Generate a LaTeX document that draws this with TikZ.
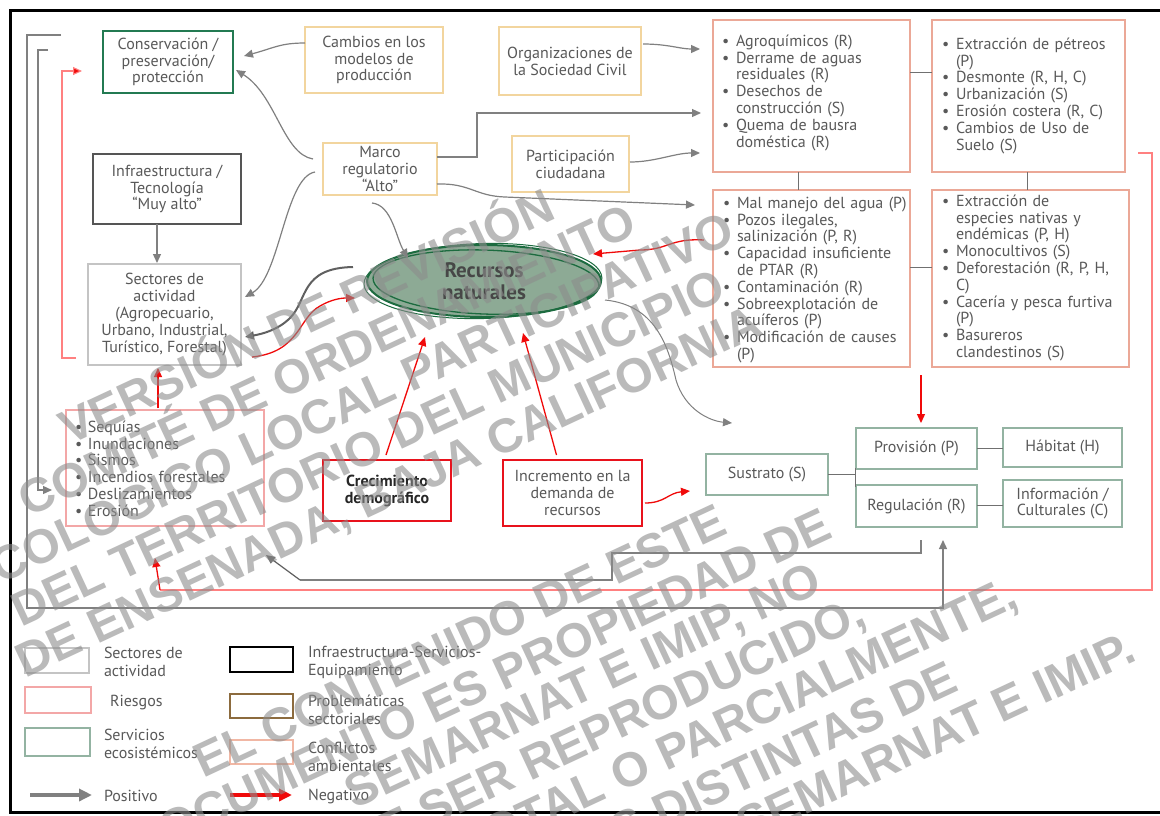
\documentclass[tikz,border=0pt]{standalone}
\usepackage{fontspec}
\setmainfont{PT Sans}
\newfontfamily\wmfont{Liberation Sans}
\usetikzlibrary{arrows.meta,calc,shapes.geometric}
\definecolor{tgray}{HTML}{595959}
\definecolor{dtxt}{HTML}{262626}
\definecolor{cCons}{HTML}{237A52}
\definecolor{cTan}{HTML}{F2D59E}
\definecolor{cSalm}{HTML}{EBA897}
\definecolor{cInfra}{HTML}{555555}
\definecolor{cSect}{HTML}{C4C4C4}
\definecolor{cRies}{HTML}{F3A7A7}
\definecolor{cCrec}{HTML}{E8121C}
\definecolor{cEco}{HTML}{93B3A2}
\definecolor{cEllF}{HTML}{8DAA95}
\definecolor{cEllD}{HTML}{1C6B3F}
\definecolor{cArr}{HTML}{808080}
\definecolor{cArrD}{HTML}{606060}
\definecolor{cRed}{HTML}{F00A0A}
\definecolor{cLRed}{HTML}{FF8080}
\definecolor{cBrown}{HTML}{8C6B3E}
\definecolor{cConf}{HTML}{F1B7A4}
\definecolor{cLine}{HTML}{707070}
\newcommand{\bl}{\makebox[14pt][l]{\textbullet}}
\newcommand{\ind}{\hspace*{14pt}}
\newcommand{\blr}{\makebox[13pt][l]{\textbullet}}
\begin{document}
\begin{tikzpicture}[x=1pt,y=-1pt,
  every node/.style={inner sep=0pt,outer sep=0pt},
  tx/.style={text=tgray,font=\fontsize{16}{16.8}\selectfont,align=center},
  bx/.style={draw=#1,line width=2.6pt,tx},
  sz/.style 2 args={minimum width=#1pt,minimum height=#2pt},
  bul/.style={tx,align=left,anchor=north west,text width=220pt},
  tip/.style={-{Triangle[length=9pt,width=8pt]}},
  ga/.style={draw=cArr,line width=1.2pt,tip},
  ra/.style={draw=cRed,line width=1.3pt,tip},
  ln/.style={draw=cLine,line width=0.9pt},
  lgt/.style={tx,align=left,anchor=west,font=\fontsize{16}{18}\selectfont},
  wm/.style={font=\wmfont\bfseries\fontsize{48}{48}\selectfont,text=black!45,text opacity=0.6,align=center,rotate=25}
]
\fill[white] (0,0) rectangle (1160,815);
\useasboundingbox (0,0) rectangle (1160,815);
\draw[line width=3pt] (10,10) rectangle (1180,812);

% boxes
\node[bx=cCons, sz={130}{62}] (cons) at (168,62) {Conservación /\\preservación/\\protección};
\node[bx=cTan, sz={138}{66}] (cambios) at (374,60) {Cambios en los\\modelos de\\producción};
\node[bx=cTan, sz={142}{68}] (org) at (570,61) {Organizaciones de\\la Sociedad Civil};
\node[bx=cSalm, sz={197}{152}] (agro) at (811.5,96) {};
\node[bx=cSalm, sz={193}{152}] (petreos) at (1028.5,96) {};
\node[bx=cTan, sz={114}{52}] (marco) at (380,169) {Marco\\regulatorio\\“Alto”};
\node[bx=cTan, sz={117}{56}] (partic) at (570.5,164) {Participación\\ciudadana};
\node[bx=cSalm, sz={197}{177}] (malm) at (811.5,278.5) {};
\node[bx=cSalm, sz={197}{177}] (esp) at (1030.5,278.5) {};
\node[bx=cInfra, sz={148}{70}] (infra) at (167,189) {Infraestructura /\\Tecnología\\“Muy alto”};
\node[bx=cSect, sz={153}{101}] (sect) at (164.5,314.5) {Sectores de\\actividad\\(Agropecuario,\\Urbano, Industrial,\\Turístico, Forestal)};
\node[bx=cRies, line width=2pt, sz={198}{116}] (ries) at (165,468) {};
\node[bx=cCrec, sz={128}{61}, text=dtxt, font=\bfseries\fontsize{16}{17}\selectfont] (crec) at (387,490.5) {Crecimiento\\demográfico};
\node[bx=cCrec, sz={139}{66}] (incr) at (572.5,493) {Incremento en la\\demanda de\\recursos};
\node[bx=cEco, sz={122}{41}] (sust) at (767,474.5) {Sustrato (S)};
\node[bx=cEco, sz={121}{41}] (prov) at (916.5,448.5) {Provisión (P)};
\node[bx=cEco, sz={121}{42}] (regu) at (916.5,506) {Regulación (R)};
\node[bx=cEco, sz={119}{39}] (hab) at (1062.5,447.5) {Hábitat (H)};
\node[bx=cEco, sz={119}{47}] (info) at (1062.5,503.5) {Información /\\Culturales (C)};

% bullet texts
\node[bul] (agrot) at (722,34.5) {\strut\bl Agroquímicos (R)\\\bl Derrame de aguas\\\ind residuales (R)\\\bl Desechos de\\\ind construcción (S)\\\bl Quema de bausra\\\ind doméstica (R)};
\node[bul] (petreost) at (942,37.5) {\strut\bl Extracción de pétreos\\\ind (P)\\\bl Desmonte (R, H, C)\\\bl Urbanización (S)\\\bl Erosión costera (R, C)\\\bl Cambios de Uso de\\\ind Suelo (S)};
\node[bul] (malmt) at (723,196.5) {\strut\bl Mal manejo del agua (P)\\\bl Pozos ilegales,\\\ind salinización (P, R)\\\bl Capacidad insuficiente\\\ind de PTAR (R)\\\bl Contaminación (R)\\\bl Sobreexplotación de\\\ind acuíferos (P)\\\bl Modificación de causes\\\ind (P)};
\node[bul] (espt) at (942,194.5) {\strut\bl Extracción de\\\ind especies nativas y\\\ind endémicas (P, H)\\\bl Monocultivos (S)\\\bl Deforestación (R, P, H,\\\ind C)\\\bl Cacería y pesca furtiva\\\ind (P)\\\bl Basureros\\\ind clandestinos (S)};
\node[bul] (riest) at (75,420.5) {\strut\blr Sequías\\\blr Inundaciones\\\blr Sismos\\\blr Incendios forestales\\\blr Deslizamientos\\\blr Erosión};

% ellipse
\node[ellipse,fill=cEllF,draw=cEllD,line width=2pt,sz={234}{72},font=\bfseries\fontsize{21}{22}\selectfont,text=black!72,align=center] (rec) at (484,281) {Recursos\\naturales};
\draw[cEllD,line width=1.3pt,rotate around={-2:(rec.center)}] ($(rec.center)+(2,1)$) ellipse [x radius=113pt,y radius=32pt];
\draw[cEllD,line width=1pt,rotate around={1.5:(rec.center)}] ($(rec.center)+(-1,0)$) ellipse [x radius=119pt,y radius=37.5pt];

% plain connector lines
\draw[ln] ($(agro.east)+(0,-24)$) -- ($(petreos.west)+(0,-24)$);
\draw[ln] ($(agro.south)+(-13.5,0)$) -- ($(malm.north)+(-13.5,0)$);
\draw[ln] ($(petreos.south)+(-1.5,0)$) -- ($(esp.north)+(-3.5,0)$);
\draw[ln] ($(malm.east)+(0,-11.5)$) -- ($(esp.west)+(0,-11.5)$);
\draw[ln] (sust.east) -- ++(27,0);
\draw[ln] ($(prov.south west)+(-1,-1)$) -- ($(regu.north west)+(-1,2)$);
\draw[ln] (prov.east) -- (prov.east -| hab.west);
\draw[ln] ($(regu.east)+(0,-1)$) -- ($(regu.east -| info.west)+(0,-1)$);

% gray arrows
\draw[ga] ($(cambios.west)+(0,-17)$) .. controls +(-25,0) and +(30,-8) .. ($(cons.east)+(11,-6)$);
\draw[ga] ($(marco.west)+(-10,-10)$) .. controls +(-30,-5) and +(40,25) .. ($(cons.east)+(3,8)$);
\draw[ga] ($(marco.west)+(-8,3)$) .. controls +(-30,5) and +(35,-20) .. ($(sect.east)+(4,-17.5)$);
\draw[ga] ($(marco.east)+(0,-12)$) -- ++(40,0) |- ($(agro.west)+(-12,17)$);
\draw[ga] ($(marco.east)+(0,15)$) .. controls +(33,-1) and +(-30,-1) .. ($(marco.east)+(68,28)$) -- ($(malm.west)+(-18,-73.5)$);
\draw[ga] ($(marco.south)+(-8,8)$) .. controls +(20,2) and +(-12,-20) .. ($(rec.center)+(-76,-23)$);
\draw[ga] ($(org.east)+(2,-17)$) .. controls +(25,0) and +(-20,0) .. ($(agro.west)+(-13,-47)$);
\draw[ga] ($(partic.east)+(1,-2)$) .. controls +(25,0) and +(-25,0) .. ($(agro.west)+(-13,57)$);
\draw[ga] ($(infra.south)+(-10,0)$) -- ($(sect.north)+(-7.5,-1)$);
\draw[draw=cArrD,line width=2pt,tip] ($(rec.center)+(-131,-14)$) .. controls (300,268) and (308,300) .. (290,318) .. controls (278,330) and (262,334) .. ($(sect.east)+(4,22.5)$);
\draw[draw=cArr,line width=1pt,tip] ($(rec.center)+(121,19)$) .. controls (655,305) and (668,345) .. (676,380) .. controls (685,410) and (710,421) .. ($(sust.north)+(-35,-31)$);

% red arrows
\draw[ra] ($(sect.east)+(11,42.5)$) .. controls (300,352) and (298,318) .. (320,306) .. controls (332,299) and (342,298) .. ($(rec.center)+(-129,17)$);
\draw[ra] ($(malm.west)+(-9,-38.5)$) .. controls +(-34,-2) and +(28,0) .. (640,250) -- ($(rec.center)+(109,-27)$);
\draw[ra] ($(crec.north)+(-1,-5)$) -- ($(rec.center)+(-59,56)$);
\draw[ra] ($(incr.north)+(-16,-5)$) -- ($(rec.center)+(39,52)$);
\draw[ra] ($(incr.east)+(3,10)$) .. controls +(20,0) and +(-22,2) .. ($(sust.west)+(-16,16.5)$);
\draw[ra] ($(ries.north)+(-7,-2)$) -- ($(sect.south)+(-6.5,3)$);
\draw[ra] ($(malm.south east)!0.5!(esp.south west)+(0,8)$) -- ($(prov.north)+(4.5,-5)$);

% long return lines
\coordinate (rc) at (160,590);
\draw[cLRed,line width=1.3pt] ($(petreos.east)+(13,57)$) -- ++(14,0) |- (rc);
\draw[ra] (rc) -- ($(ries.south)+(-10,32)$);
\coordinate (gc) at (300,580);
\draw[cArr,line width=1.1pt] ($(regu.south)+(4.5,13)$) -- ++(0,13) -| (612,580) -- (gc);
\draw[draw=cArrD,line width=1.2pt,tip] (gc) -- ($(ries.south east)+(2,29)$);
\draw[draw=cArr,line width=1.3pt,tip] ($(cons.west)+(-42,-27)$) -- ++(-34,0) |- ($(regu.south)+(26.5,81)$) -- ($(regu.south)+(26.5,13)$);
\draw[draw=cArr,line width=1.3pt,tip] ($(cons.west)+(-55,-12)$) -- ++(-10,0) |- ($(ries.west)+(-14,22)$);
\draw[draw=cLRed,line width=1.1pt,-{Triangle[length=9pt,width=8pt,fill=cRed]}] ($(sect.west)+(-12,43.5)$) -- ++(-14,0) |- ($(cons.west)+(-21,9)$);

% legend
\node[bx=cSect, sz={64}{25}] (lg1) at (57,660.5) {};
\node[lgt] (lg1t) at (104,662) {Sectores de\\actividad};
\node[bx=cRies, sz={66}{26}] (lg2) at (58,700) {};
\node[lgt] (lg2t) at (110,703) {Riesgos};
\node[bx=cEco, sz={65}{28}] (lg3) at (57.5,742) {};
\node[lgt] (lg3t) at (104,744) {Servicios\\ecosistémicos};
\coordinate (p1) at (30,795);
\coordinate (p2) at (92,795);
\draw[draw=cArr,line width=3.5pt,-{Triangle[length=13pt,width=12pt]}] (p1) -- (p2);
\node[lgt] (lg4t) at (104,796) {Positivo};
\node[bx=black, sz={63}{25}] (lg5) at (261.5,659.5) {};
\node[lgt] (lg5t) at (308,662) {Infraestructura-Servicios-\\Equipamiento};
\node[bx=cBrown, sz={63}{24}] (lg6) at (261.5,706) {};
\node[lgt] (lg6t) at (308,710) {Problemáticas\\sectoriales};
\node[bx=cConf, sz={63}{24}] (lg7) at (261.5,752) {};
\node[lgt] (lg7t) at (308,757) {Conflictos\\ambientales};
\coordinate (n1) at (230,795);
\coordinate (n2) at (292,795);
\draw[draw=cRed,line width=4pt,-{Triangle[length=13pt,width=12pt]}] (n1) -- (n2);
\node[lgt] (lg8t) at (308,796) {Negativo};

% watermark
\node[wm] (wm1) at (347,403) {VERSIÓN DE REVISIÓN\\COMITÉ DE ORDENAMIENTO\\ECOLOGICO LOCAL PARTICIPATIVO\\DEL TERRITORIO DEL MUNICIPIO\\DE ENSENADA, BAJA CALIFORNIA};
\node[wm,anchor=east] (wm2a) at (723,518) {EL CONTENIDO DE ESTE};
\node[wm,anchor=east] (wm2b) at (828,522) {DOCUMENTO ES PROPIEDAD DE};
\node[wm,anchor=east] (wm2c) at (819,579) {SEMARNAT E IMIP, NO};
\node[wm,anchor=east] (wm2d) at (863,612) {PUEDE SER REPRODUCIDO,};
\node[wm,anchor=east] (wm2e) at (1015,594) {TOTAL O PARCIALMENTE,};
\node[wm,anchor=east] (wm2f) at (954,675) {POR PERSONAS DISTINTAS DE};
\node[wm,anchor=east] (wm2g) at (1132,645) {SEMARNAT E IMIP.};
\end{tikzpicture}
\end{document}
